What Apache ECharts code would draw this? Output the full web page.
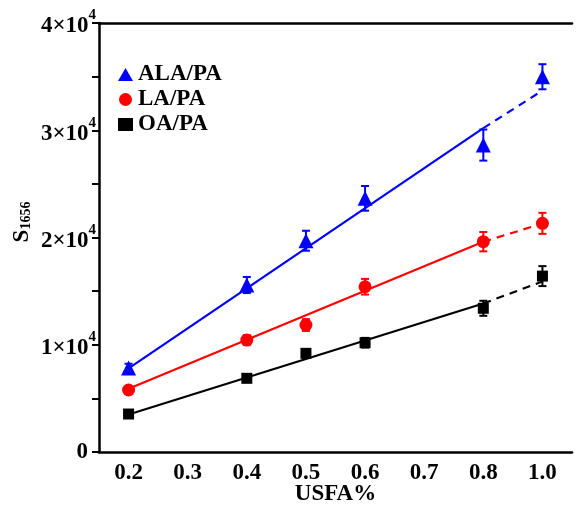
<!DOCTYPE html>
<html>
<head>
<meta charset="utf-8">
<script src="https://cdn.jsdelivr.net/npm/echarts@6/dist/echarts.min.js"></script>
<style>
  html, body { margin: 0; padding: 0; background: #fff; }
  #chart { width: 576px; height: 506px; }
</style>
</head>
<body>
<div id="chart"></div>
<script>
// x tick labels (note: no 0.9 on the axis, 1.0 sits in its place)
var categories = ['0.2', '0.3', '0.4', '0.5', '0.6', '0.7', '0.8', '1.0'];
var xPoints = ['0.2', '0.4', '0.5', '0.6', '0.8', '1.0'];

// measured S1656 values and error bars
var alaValues = [7830, 15570, 19700, 23650, 28620, 34990];
var alaErrors = [400, 750, 930, 1150, 1450, 1170];
var laValues = [5780, 10440, 11840, 15410, 19610, 21320];
var laErrors = [300, 450, 550, 730, 900, 980];
var oaValues = [3540, 6870, 9200, 10190, 13400, 16400];
var oaErrors = [250, 300, 400, 450, 700, 930];

// fitted lines: solid 0.2 -> 0.8, dashed 0.8 -> 1.0
var fitX = ['0.2', '0.8', '1.0'];
var alaFit = [7800, 30200, 33700];
var laFit = [5900, 19600, 21300];
var oaFit = [3500, 13850, 15900];

var BLUE = '#0000ff', RED = '#ff0000', BLACK = '#000000';
var FONT = '"Liberation Serif", "Times New Roman", serif';

function pairs(xs, ys) {
    return xs.map(function (x, i) { return [x, ys[i]]; });
}
function errData(vals, errs) {
    return xPoints.map(function (x, i) { return [x, vals[i] - errs[i], vals[i] + errs[i]]; });
}
function errSeries(vals, errs, color) {
    return {
        type: 'custom',
        z: 1,
        silent: true,
        encode: { x: 0, y: [1, 2] },
        data: errData(vals, errs),
        renderItem: function (params, api) {
            var lo = api.coord([api.value(0), api.value(1)]);
            var hi = api.coord([api.value(0), api.value(2)]);
            var w = 4;
            var st = { stroke: color, lineWidth: 2 };
            return {
                type: 'group',
                children: [
                    { type: 'line', shape: { x1: lo[0], y1: lo[1], x2: hi[0], y2: hi[1] }, style: st },
                    { type: 'line', shape: { x1: lo[0] - w, y1: lo[1], x2: lo[0] + w, y2: lo[1] }, style: st },
                    { type: 'line', shape: { x1: hi[0] - w, y1: hi[1], x2: hi[0] + w, y2: hi[1] }, style: st }
                ]
            };
        }
    };
}
function fitSeries(fit, color) {
    return [{
        type: 'line', z: 2, silent: true, showSymbol: false,
        data: pairs(fitX.slice(0, 2), fit.slice(0, 2)),
        lineStyle: { color: color, width: 2.2 }
    }, {
        type: 'line', z: 2, silent: true, showSymbol: false,
        data: pairs(fitX.slice(1), fit.slice(1)),
        lineStyle: { color: color, width: 2.2, type: [8, 6] }
    }];
}

var chart = echarts.init(document.getElementById('chart'));
chart.setOption({
    animation: false,
    backgroundColor: '#fff',
    grid: { left: 99, right: 4, top: 23, bottom: 54, containLabel: false, outerBoundsMode: 'none' },
    legend: {
        data: ['ALA/PA', 'LA/PA', 'OA/PA'],
        orient: 'vertical',
        left: 113,
        top: 58,
        itemWidth: 15,
        itemHeight: 13,
        itemGap: 2,
        textStyle: { fontFamily: FONT, fontWeight: 'bold', fontSize: 23, color: '#000' }
    },
    xAxis: [{
        type: 'category',
        data: categories,
        boundaryGap: true,
        name: 'USFA%',
        nameLocation: 'middle',
        nameGap: 31,
        nameMoveOverlap: false,
        nameTextStyle: { fontFamily: FONT, fontWeight: 'bold', fontSize: 23, color: '#000' },
        axisLine: { lineStyle: { color: '#000', width: 2.5 } },
        axisTick: { alignWithLabel: true, length: 6, lineStyle: { color: '#000', width: 2 } },
        axisLabel: { margin: 10, fontFamily: FONT, fontWeight: 'bold', fontSize: 23, color: '#000' },
        splitLine: { show: false }
    }, {
        type: 'category',
        data: categories,
        position: 'top',
        axisLine: { lineStyle: { color: '#000', width: 2.5 } },
        axisTick: { show: false },
        axisLabel: { show: false },
        splitLine: { show: false }
    }],
    yAxis: {
        type: 'value',
        min: 0,
        max: 40000,
        interval: 5000,
        axisLine: { show: true, lineStyle: { color: '#000', width: 2.5 } },
        axisTick: { show: true, length: 7, lineStyle: { color: '#000', width: 2 } },
        splitLine: { show: false },
        axisLabel: {
            margin: 3,
            color: '#000',
            fontFamily: FONT,
            fontWeight: 'bold',
            fontSize: 23,
            formatter: function (v) {
                if (v === 0) return '{z|0}';
                if (v % 10000 !== 0) return '';
                return '{b|' + (v / 10000) + '×10}{s|4}';
            },
            rich: {
                z: { fontFamily: FONT, fontWeight: 'bold', fontSize: 23, color: '#000', padding: [0, 8, 0, 0] },
                b: { fontFamily: FONT, fontWeight: 'bold', fontSize: 23, color: '#000', verticalAlign: 'bottom', lineHeight: 23 },
                s: { fontFamily: FONT, fontWeight: 'bold', fontSize: 15, color: '#000', verticalAlign: 'top', lineHeight: 30 }
            }
        }
    },
    graphic: [{
        type: 'text',
        x: 22,
        y: 222,
        rotation: Math.PI / 2,
        style: {
            text: '{a|S}{b|1656}',
            align: 'center',
            verticalAlign: 'middle',
            rich: {
                a: { fontFamily: FONT, fontWeight: 'bold', fontSize: 23, fill: '#000', color: '#000' },
                b: { fontFamily: FONT, fontWeight: 'bold', fontSize: 14, fill: '#000', color: '#000', verticalAlign: 'bottom' }
            }
        }
    }],
    series: [].concat(
        fitSeries(alaFit, BLUE),
        fitSeries(laFit, RED),
        fitSeries(oaFit, BLACK),
        [errSeries(alaValues, alaErrors, BLUE),
         errSeries(laValues, laErrors, RED),
         errSeries(oaValues, oaErrors, BLACK),
         { name: 'ALA/PA', type: 'scatter', z: 3, symbol: 'triangle', symbolSize: 15,
           itemStyle: { color: BLUE, opacity: 1 }, data: pairs(xPoints, alaValues) },
         { name: 'LA/PA', type: 'scatter', z: 3, symbol: 'circle', symbolSize: 13,
           itemStyle: { color: RED, opacity: 1 }, data: pairs(xPoints, laValues) },
         { name: 'OA/PA', type: 'scatter', z: 3, symbol: 'rect', symbolSize: 11,
           itemStyle: { color: BLACK, opacity: 1 }, data: pairs(xPoints, oaValues) }]
    )
});
</script>
</body>
</html>
